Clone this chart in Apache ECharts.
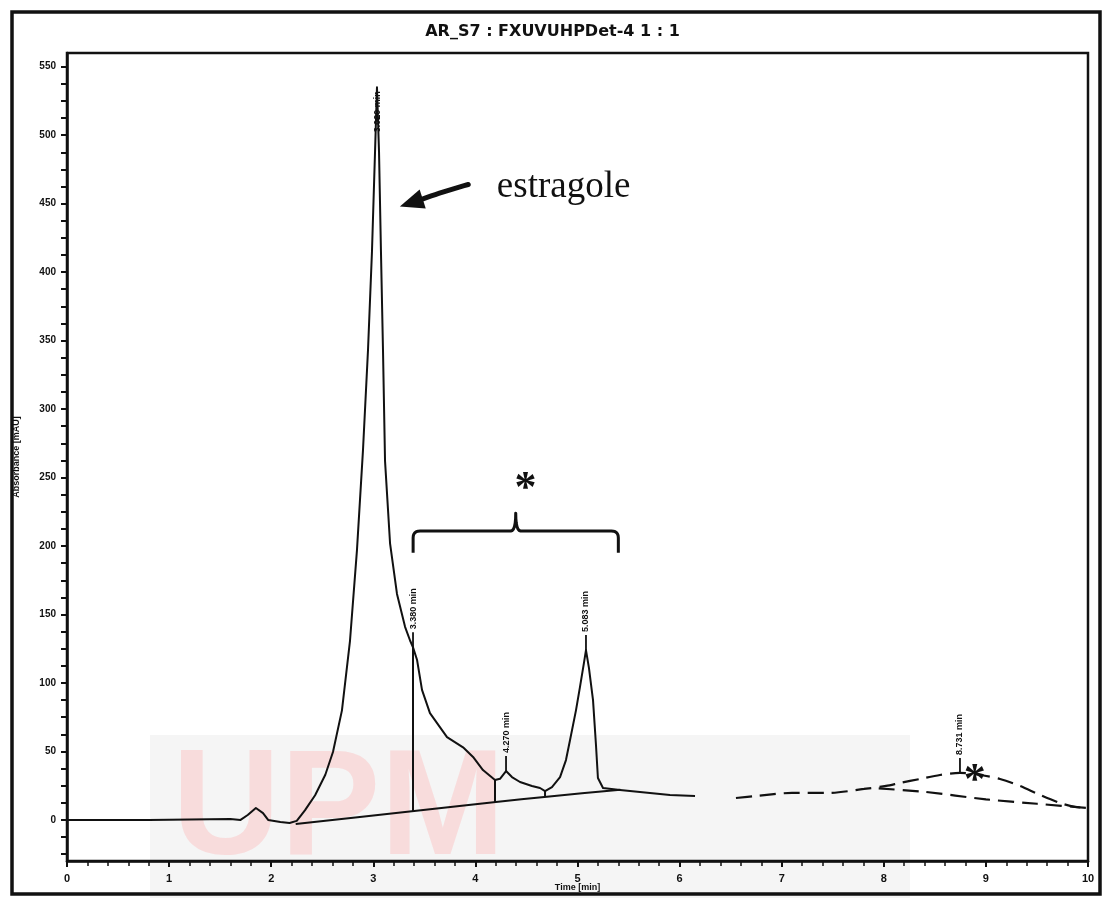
<!DOCTYPE html>
<html>
<head>
<meta charset="utf-8">
<script src="https://cdn.jsdelivr.net/npm/echarts@6/dist/echarts.min.js"></script>
<style>
  html, body { margin: 0; padding: 0; background: #fff; }
  #chart { width: 1105px; height: 898px; }
</style>
</head>
<body>
<div id="chart"></div>
<script>
// Detector trace, solid part (time in min, signal in mAU)
const traceTime = [0, 0.8, 1.6, 1.7, 1.77, 1.85, 1.92, 1.97, 2.09, 2.18, 2.25, 2.33, 2.43, 2.53,
  2.605, 2.693, 2.772, 2.84, 2.899, 2.948, 2.987, 3.017, 3.036, 3.056, 3.075, 3.095, 3.115,
  3.164, 3.232, 3.311, 3.36, 3.389, 3.428, 3.477, 3.555, 3.722, 3.879, 3.977, 4.074, 4.192,
  4.241, 4.30, 4.358, 4.437, 4.554, 4.633, 4.682, 4.75, 4.829, 4.887, 4.927, 4.985, 5.024,
  5.064, 5.083, 5.112, 5.152, 5.181, 5.20, 5.25, 5.416, 5.612, 5.71, 5.906, 6.151];
const traceSignal = [0, 0, 0.6, 0, 3.6, 8.7, 5, 0, -1.5, -2.2, -0.7, 7, 18, 33,
  49.6, 80, 131, 197, 270, 343, 415, 488, 535, 488, 415, 343, 262,
  202, 165, 141, 131, 126, 117, 95, 78, 60.5, 53, 46, 36.4, 29.2,
  30, 35.7, 31.3, 27.7, 24.8, 23.3, 21.1, 24, 31.3, 43.7, 58.3, 80, 97,
  115, 124, 111, 87.5, 54.7, 30.6, 23.3, 21.9, 20.4, 19.7, 18.2, 17.5];

// Trace continuation, drawn dashed
const tailTime = [6.552, 6.748, 7.101, 7.453, 7.806, 8.022, 8.159, 8.355, 8.55, 8.746, 8.942,
  9.138, 9.334, 9.53, 9.726, 9.873, 10];
const tailSignal = [16, 17.5, 19.7, 19.7, 22.6, 24.8, 27, 29.9, 32.8, 34.3, 32.8,
  29.9, 24.8, 18.2, 12.4, 9.5, 8.7];

// Integration baselines
const base1Time = [2.24, 3.4, 4.2, 4.7, 5.42];
const base1Signal = [-3, 6.5, 13, 17, 22];
const base2Time = [7.95, 8.4, 9.0, 9.5, 10];
const base2Signal = [23, 20.5, 15, 11.8, 8.7];

// Peak drop lines (from trace down to baseline)
const dropTime = [3.389, 4.192, 4.682];
const dropTop = [126, 29.2, 21.1];
const dropBottom = [6.4, 12.9, 16.8];

// Labelled peaks
const peakTime = [3.036, 3.389, 4.30, 5.083, 8.746];
const peakHeight = [535, 126, 35.7, 124, 34.3];
const peakLabels = ['3.020 min', '3.380 min', '4.270 min', '5.083 min', '8.731 min'];

// Axis ticks and labels
const yLabelValues = [0, 50, 100, 150, 200, 250, 300, 350, 400, 450, 500, 550];
const yTickValues = [-25, -12.5, 0, 12.5, 25, 37.5, 50, 62.5, 75, 87.5, 100, 112.5, 125, 137.5,
  150, 162.5, 175, 187.5, 200, 212.5, 225, 237.5, 250, 262.5, 275, 287.5, 300, 312.5, 325,
  337.5, 350, 362.5, 375, 387.5, 400, 412.5, 425, 437.5, 450, 462.5, 475, 487.5, 500, 512.5,
  525, 537.5, 550];

const titleText = 'AR_S7 : FXUVUHPDet-4 1 : 1';
const xName = 'Time [min]';
const yName = 'Absorbance [mAU]';

const zip = (a, b) => a.map((v, i) => [v, b[i]]);
const INK = '#111';

const chart = echarts.init(document.getElementById('chart'), null, { renderer: 'canvas' });

chart.setOption({
  animation: false,
  backgroundColor: '#fff',
  title: {
    text: titleText,
    left: 'center',
    top: 19,
    textStyle: { fontFamily: 'DejaVu Sans', fontWeight: 'bold', fontSize: 16, color: INK }
  },
  grid: {
    left: 67, right: 17, top: 53, bottom: 37,
    outerBoundsMode: 'none', containLabel: false,
    show: true, borderColor: INK, borderWidth: 2.5, backgroundColor: 'transparent'
  },
  xAxis: {
    type: 'value', min: 0, max: 10, interval: 1,
    name: xName, nameLocation: 'middle', nameGap: 22, nameMoveOverlap: false,
    nameTextStyle: { fontFamily: 'Liberation Sans', fontWeight: 'bold', fontSize: 9, color: INK },
    axisLine: { show: true, onZero: false, lineStyle: { color: INK, width: 2.5 } },
    axisTick: { show: true, length: 6, lineStyle: { color: INK, width: 2 } },
    minorTick: { show: true, splitNumber: 5, length: 5, lineStyle: { color: INK, width: 1.5 } },
    splitLine: { show: false },
    axisLabel: { fontFamily: 'Liberation Sans', fontWeight: 'bold', fontSize: 11, color: INK, margin: 12 }
  },
  yAxis: {
    type: 'value', min: -30, max: 560,
    name: yName, nameLocation: 'middle', nameGap: 46, nameRotate: 90, nameMoveOverlap: false,
    nameTextStyle: { fontFamily: 'Liberation Sans', fontWeight: 'bold', fontSize: 9, color: INK },
    axisLine: { show: true, onZero: false, lineStyle: { color: INK, width: 2.5 } },
    axisTick: { show: true, length: 6, customValues: yTickValues, lineStyle: { color: INK, width: 2 } },
    splitLine: { show: false },
    axisLabel: { customValues: yLabelValues, fontFamily: 'Liberation Sans', fontWeight: 'bold',
      fontSize: 10, color: INK, margin: 11 }
  },
  series: [
    {
      name: 'trace', type: 'line', data: zip(traceTime, traceSignal),
      showSymbol: false, smooth: false,
      lineStyle: { color: INK, width: 2, join: 'round' }, z: 5
    },
    {
      name: 'trace tail', type: 'line', data: zip(tailTime, tailSignal),
      showSymbol: false, smooth: 0.3,
      lineStyle: { color: INK, width: 2.2, type: [16, 8] }, z: 5
    },
    {
      name: 'baseline 1', type: 'line', data: zip(base1Time, base1Signal),
      showSymbol: false, smooth: 0.2,
      lineStyle: { color: INK, width: 2 }, z: 4
    },
    {
      name: 'baseline 2', type: 'line', data: zip(base2Time, base2Signal),
      showSymbol: false, smooth: 0.2,
      lineStyle: { color: INK, width: 2.2, type: [16, 8] }, z: 4
    },
    {
      name: 'drop lines', type: 'custom', z: 4, clip: false,
      data: dropTime.map((t, i) => [t, dropTop[i], dropBottom[i]]),
      renderItem(params, api) {
        const a = api.coord([api.value(0), api.value(1)]);
        const b = api.coord([api.value(0), api.value(2)]);
        return { type: 'line', shape: { x1: a[0], y1: a[1], x2: b[0], y2: b[1] },
          style: { stroke: INK, lineWidth: 2 } };
      }
    },
    {
      name: 'peak labels', type: 'custom', z: 6, clip: false,
      data: zip(peakTime, peakHeight),
      renderItem(params, api) {
        const p = api.coord([api.value(0), api.value(1)]);
        const top = params.coordSys.y;
        const text = peakLabels[params.dataIndex];
        const font = 'bold 9px "Liberation Sans"';
        const tickLen = 15;
        if (p[1] - top > 80) {
          return { type: 'group', children: [
            { type: 'line', shape: { x1: p[0], y1: p[1], x2: p[0], y2: p[1] - tickLen },
              style: { stroke: INK, lineWidth: 1.8 } },
            { type: 'text', x: p[0], y: p[1] - tickLen - 3, rotation: Math.PI / 2,
              style: { text, font, fill: INK, align: 'left', verticalAlign: 'middle' } }
          ] };
        }
        // No room above the apex: print the label down along the peak
        return { type: 'text', x: p[0] + 1, y: p[1] + 4, rotation: Math.PI / 2,
          style: { text, font, fill: INK, align: 'right', verticalAlign: 'middle' } };
      }
    }
  ]
});

// Annotations placed in data units
const px = (x, y) => chart.convertToPixel({ gridIndex: 0 }, [x, y]);

// sample a quadratic curve into polyline points
function quad(p0, c, p1, n) {
  const pts = [];
  for (let i = 1; i <= n; i++) {
    const t = i / n, u = 1 - t;
    pts.push([u * u * p0[0] + 2 * u * t * c[0] + t * t * p1[0],
              u * u * p0[1] + 2 * u * t * c[1] + t * t * p1[1]]);
  }
  return pts;
}

function arrow(from, to) {
  const a = px(from[0], from[1]);
  const b = px(to[0], to[1]);
  const dx = b[0] - a[0], dy = b[1] - a[1];
  const len = Math.hypot(dx, dy);
  const ux = dx / len, uy = dy / len;
  const headLen = 24, headHalf = 10;
  const base = [b[0] - ux * headLen, b[1] - uy * headLen];
  const end = [base[0] + ux * 4, base[1] + uy * 4];
  const mid = [(a[0] + end[0]) / 2, (a[1] + end[1]) / 2 - 1];
  return [
    { type: 'polyline', z: 100, shape: { points: [a, ...quad(a, mid, end, 12)] },
      style: { stroke: INK, lineWidth: 5, fill: null, lineCap: 'round' } },
    { type: 'polygon', z: 100,
      shape: { points: [b, [base[0] - uy * headHalf, base[1] + ux * headHalf],
        [base[0] + uy * headHalf, base[1] - ux * headHalf]] },
      style: { fill: INK } }
  ];
}

function brace(x0, x1, yBase, yBar, yNub) {
  const l = px(x0, yBase), r = px(x1, yBase);
  const bar = px(x0, yBar)[1];
  const nub = px(x0, yNub)[1];
  const c = (l[0] + r[0]) / 2;
  const k = 7;
  let pts = [l, [l[0], bar + k]];
  pts = pts.concat(quad([l[0], bar + k], [l[0], bar], [l[0] + k, bar], 6));
  pts.push([c - 5, bar]);
  pts = pts.concat(quad([c - 5, bar], [c, bar], [c, nub], 6));
  pts = pts.concat(quad([c, nub], [c, bar], [c + 5, bar], 6));
  pts.push([r[0] - k, bar]);
  pts = pts.concat(quad([r[0] - k, bar], [r[0], bar], [r[0], bar + k], 6));
  pts.push(r);
  return { type: 'polyline', z: 100, shape: { points: pts },
    style: { stroke: INK, lineWidth: 3, fill: null, lineJoin: 'round' } };
}

function star(x, y) {
  const p = px(x, y);
  return { type: 'text', z: 100, x: p[0], y: p[1] + 11,
    style: { text: '*', font: 'bold 44px "Liberation Serif"', fill: INK, align: 'center', verticalAlign: 'middle' } };
}

const label = px(4.21, 462);

chart.setOption({
  graphic: [
    // faint repository watermark behind the plot
    { type: 'rect', z: -10, silent: true, shape: { x: 150, y: 735, width: 760, height: 163 },
      style: { fill: '#f5f5f5' } },
    { type: 'text', z: -9, silent: true, x: 172, y: 738,
      style: { text: 'UPM', font: 'bold 150px "Liberation Sans"', fill: '#f8dcdc' } },
    // outer frame
    { type: 'rect', z: 100, silent: true, shape: { x: 12, y: 12, width: 1088, height: 882 },
      style: { fill: null, stroke: INK, lineWidth: 3.5 } },
    { type: 'text', z: 100, x: label[0], y: label[1],
      style: { text: 'estragole', font: '37px "Liberation Serif"', fill: INK, align: 'left', verticalAlign: 'middle' } },
    ...arrow([3.93, 464], [3.26, 448]),
    brace(3.39, 5.40, 195, 211, 224),
    star(4.49, 249),
    star(8.89, 36)
  ]
});
</script>
</body>
</html>
